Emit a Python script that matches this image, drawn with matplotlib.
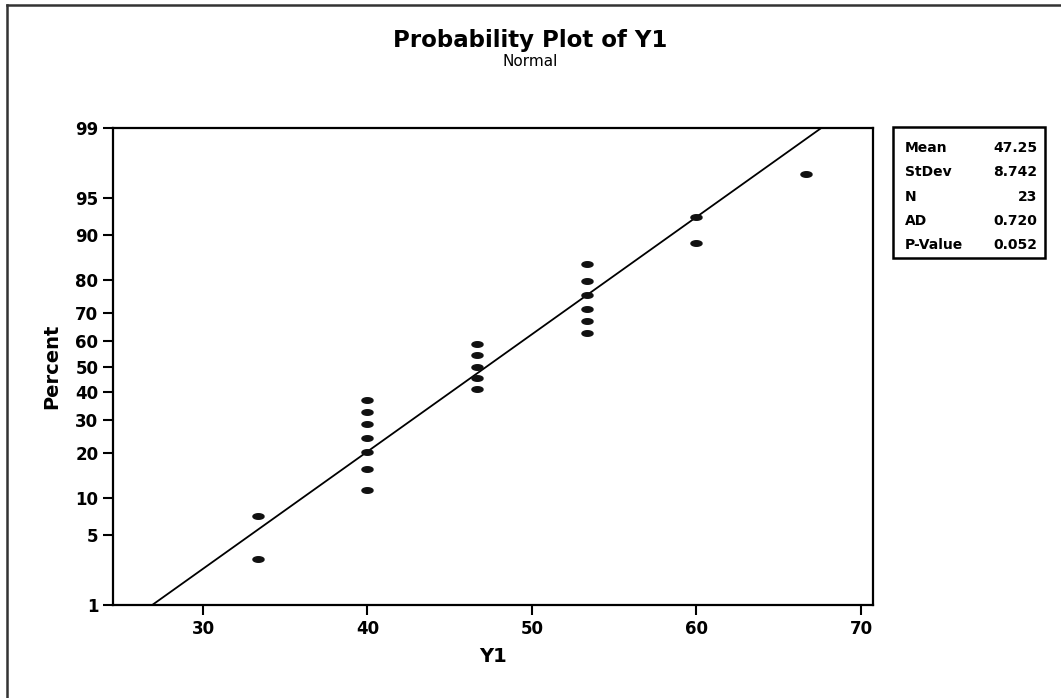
from statistics import NormalDist

import matplotlib
matplotlib.use('Agg')
import matplotlib.pyplot as plt
from matplotlib.patches import Rectangle
from matplotlib.path import Path
import numpy as np


# sample values and their plotted percent (median ranks)
Y1 = [33.33, 33.33,
      40.0, 40.0, 40.0, 40.0, 40.0, 40.0, 40.0,
      46.67, 46.67, 46.67, 46.67, 46.67,
      53.33, 53.33, 53.33, 53.33, 53.33, 53.33,
      60.0, 60.0,
      66.67]
PERCENT = [3.0, 7.3,
           11.5, 15.8, 20.1, 24.4, 28.6, 32.9, 37.2,
           41.5, 45.7, 50.0, 54.3, 58.5,
           62.8, 67.1, 71.4, 75.6, 79.9, 84.2,
           88.5, 92.7,
           97.0]

MEAN = 47.25
STDEV = 8.742
STAT_NAMES = ['Mean', 'StDev', 'N', 'AD', 'P-Value']
STAT_VALUES = ['47.25', '8.742', '23', '0.720', '0.052']

Y_TICKS = [1, 5, 10, 20, 30, 40, 50, 60, 70, 80, 90, 95, 99]
X_TICKS = [30, 40, 50, 60, 70]

W, H = 1061, 698
norm = NormalDist()


def z(p):
    return norm.inv_cdf(p / 100.0)


def main():
    fig = plt.figure(figsize=(W / 100, H / 100), dpi=100)
    ax = fig.add_axes([113 / W, 1 - 605 / H, (873 - 113) / W, (605 - 128) / H])

    # flat oval marker like the scanned Minitab symbols
    t = np.linspace(0, 2 * np.pi, 40)
    oval = Path(np.column_stack([np.cos(t) * 2.0, np.sin(t)]))

    zs = [z(p) for p in PERCENT]
    ax.plot(Y1, zs, linestyle='none', marker=oval, markersize=8,
            color='#111111', zorder=3)

    # fitted normal line between 1% and 99%
    line_p = np.array([1, 99])
    line_z = [z(p) for p in line_p]
    line_x = [MEAN + zz * STDEV for zz in line_z]
    ax.plot(line_x, line_z, color='black', linewidth=1.3, zorder=2)

    ax.set_xlim(24.53, 70.73)
    ax.set_ylim(z(1), z(99))
    ax.set_xticks(X_TICKS)
    ax.set_yticks([z(p) for p in Y_TICKS])
    ax.set_yticklabels([str(p) for p in Y_TICKS])
    ax.tick_params(direction='out', length=7, width=1.5, labelsize=12)
    for lbl in ax.get_xticklabels() + ax.get_yticklabels():
        lbl.set_fontweight('bold')
    for spine in ax.spines.values():
        spine.set_linewidth(1.6)

    fig.text(530 / W, 1 - 40 / H, 'Probability Plot of Y1', ha='center', va='center',
             fontsize=16.5, fontweight='bold')
    fig.text(530 / W, 1 - 62 / H, 'Normal', ha='center', va='center', fontsize=11)
    fig.text(493 / W, 1 - 657 / H, 'Y1', ha='center', va='center',
             fontsize=14, fontweight='bold')
    fig.text(52 / W, 1 - 366 / H, 'Percent', ha='center', va='center',
             fontsize=14, fontweight='bold', rotation=90)

    # stats box
    fig.patches.append(Rectangle((893 / W, 1 - 258 / H), (1045 - 893) / W, (258 - 127) / H,
                                 transform=fig.transFigure, fill=False,
                                 edgecolor='black', linewidth=1.8))
    for i, (name, val) in enumerate(zip(STAT_NAMES, STAT_VALUES)):
        y = 1 - (148 + i * 24.3) / H
        fig.text(905 / W, y, name, ha='left', va='center', fontsize=10, fontweight='bold')
        fig.text(1037 / W, y, val, ha='right', va='center', fontsize=10, fontweight='bold')

    # page border (left and top edges of the scan)
    fig.add_artist(plt.Line2D([7 / W, 7 / W], [0, 1 - 5 / H], transform=fig.transFigure,
                              color='#333333', linewidth=1.8))
    fig.add_artist(plt.Line2D([7 / W, 1], [1 - 5 / H, 1 - 5 / H], transform=fig.transFigure,
                              color='#333333', linewidth=1.8))

    fig.savefig('out.png', dpi=100)
    plt.close(fig)


if __name__ == '__main__':
    main()
